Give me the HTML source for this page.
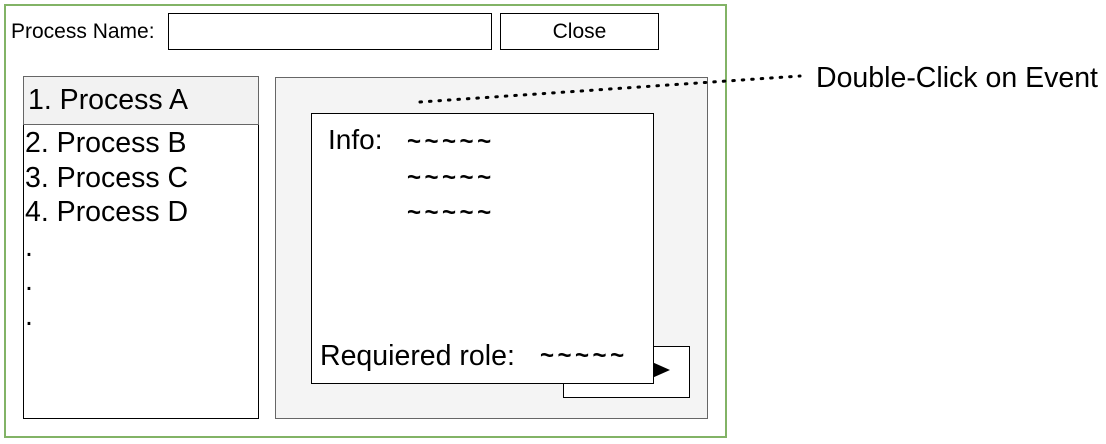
<!DOCTYPE html>
<html><head><style>
body{margin:0;width:1106px;height:444px;background:#fff;font-family:"Liberation Sans",Arial,sans-serif;position:relative;overflow:hidden}
div{position:absolute;box-sizing:border-box}
.t{white-space:nowrap;color:#000}
</style></head><body>
<div style="left:4px;top:4px;width:723px;height:434px;border:2px solid #82b366"></div>
<div class="t" style="left:11px;top:20px;font-size:21px;line-height:24px">Process Name:</div>
<div style="left:168px;top:13px;width:324px;height:37px;border:1.5px solid #000"></div>
<div style="left:500px;top:13px;width:159px;height:37px;border:1.5px solid #000;text-align:center;line-height:35px;font-size:21px">Close</div>
<div style="left:23px;top:76px;width:236px;height:343px;border:1.5px solid #000"></div>
<div style="left:23px;top:76px;width:236px;height:49px;border:1.5px solid #666;background:#f2f2f2"></div>
<div class="t" style="left:28px;top:84px;font-size:28.5px;line-height:32px">1. Process A</div>
<div class="t" style="left:25px;top:126px;font-size:28.5px;line-height:34.5px">2. Process B<br>3. Process C<br>4. Process D<br>.<br>.<br>.</div>
<div style="left:275px;top:77px;width:433px;height:342px;border:1.5px solid #666;background:#f4f4f4"></div>
<div style="left:563px;top:346px;width:127px;height:52px;border:1.5px solid #000;background:#fff"></div>
<svg style="position:absolute;left:0;top:0" width="1106" height="444"><polygon points="652,362 670,370 652,378" fill="#000"/>
<line x1="420" y1="102" x2="800" y2="76" stroke="#000" stroke-width="3" stroke-dasharray="1.5 8" stroke-linecap="round"/></svg>
<div style="left:311px;top:113px;width:343px;height:271px;border:1.5px solid #000;background:#fff"></div>
<div class="t" style="left:328px;top:124px;font-size:28px;line-height:32px">Info:</div>
<div class="t" style="left:407px;top:124px;font-size:24px;line-height:35.5px;letter-spacing:3.5px;font-weight:bold">~~~~~<br>~~~~~<br>~~~~~</div>
<div class="t" style="left:320px;top:340px;font-size:28.5px;line-height:32px">Requiered role:</div>
<div class="t" style="left:540px;top:340px;font-size:24px;line-height:32px;letter-spacing:3.5px;font-weight:bold">~~~~~</div>
<div class="t" style="left:816px;top:62px;font-size:28.5px;line-height:32px">Double-Click on Event</div>
</body></html>
